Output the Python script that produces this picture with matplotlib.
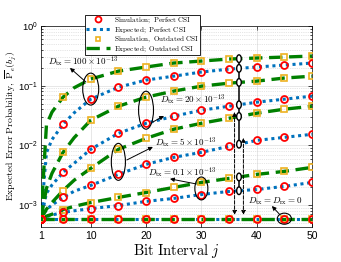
import numpy as np
import matplotlib
matplotlib.use("Agg")
import matplotlib.pyplot as plt
from matplotlib.patches import Ellipse

# bit interval where the expected curves and the simulation markers sit
j_line = [1, 2, 3, 5, 7, 10, 15, 20, 25, 30, 35, 40, 45, 50]
j_mark = [1, 5, 10, 15, 20, 25, 30, 35, 40, 45, 50]

# perfect CSI, D_tx = 100, 20, 5, 0.1 (x 1e-13)
perfect_100 = [0.00059, 0.0075, 0.0125, 0.0225, 0.035, 0.0593, 0.094, 0.124, 0.144, 0.169, 0.189, 0.205, 0.221, 0.239]
perfect_20 = [0.00059, 0.00157, 0.00217, 0.00352, 0.0050, 0.00857, 0.0159, 0.0234, 0.0307, 0.0387, 0.0452, 0.0528, 0.0593, 0.0667]
perfect_5 = [0.00059, 0.00084, 0.0010, 0.00134, 0.0017, 0.00213, 0.00326, 0.0048, 0.00628, 0.00763, 0.00962, 0.0121, 0.0136, 0.0153]
perfect_01 = [0.00059, 0.00064, 0.00068, 0.00075, 0.0008, 0.00087, 0.00098, 0.00115, 0.00129, 0.0015, 0.00169, 0.00182, 0.00205, 0.00239]

# outdated CSI
outdated_100 = [0.00059, 0.022, 0.036, 0.0641, 0.092, 0.129, 0.175, 0.205, 0.239, 0.258, 0.279, 0.29, 0.301, 0.313]
outdated_20 = [0.00059, 0.0019, 0.0034, 0.00763, 0.0134, 0.0263, 0.0452, 0.0641, 0.081, 0.098, 0.11, 0.119, 0.134, 0.144]
outdated_5 = [0.00059, 0.00085, 0.0011, 0.00175, 0.0026, 0.00411, 0.00857, 0.0131, 0.0186, 0.0234, 0.0284, 0.0345, 0.0403, 0.0452]
outdated_01 = [0.00059, 0.00065, 0.0007, 0.00084, 0.00095, 0.0011, 0.00134, 0.00162, 0.00197, 0.00239, 0.00279, 0.00326, 0.00366, 0.00427]

# D_tx = D_rx = 0
no_diffusion = [0.00059] * 14

blue = "#0072BD"
green = "#008000"
red = "#FF0000"
orange = "#EDB120"

plt.rcParams["font.family"] = ["Liberation Sans", "DejaVu Sans"]
plt.rcParams["mathtext.fontset"] = "cm"

fig = plt.figure(figsize=(3.41, 2.62), dpi=100)
ax = fig.add_axes([0.120, 0.134, 0.795, 0.767])

ax.set_yscale("log")
ax.set_xlim(1, 50)
ax.set_ylim(4.3e-4, 1)

pairs = [(perfect_100, outdated_100), (perfect_20, outdated_20), (perfect_5, outdated_5),
         (perfect_01, outdated_01), (no_diffusion, no_diffusion)]
mask = np.isin(j_line, j_mark)
jm = np.array(j_line)[mask]

handles = None
for p, o in pairs:
    p = np.array(p)
    o = np.array(o)
    l1, = ax.plot(j_line, p, color=blue, ls=(0, (1, 1.2)), lw=2.2, zorder=2)
    l2, = ax.plot(j_line, o, color=green, ls=(0, (4, 2)), lw=2.4, zorder=3)
    m1, = ax.plot(jm, p[mask], "o", mfc="none", mec=red, ms=5, mew=1.3, zorder=5)
    m2, = ax.plot(jm, o[mask], "s", mfc="none", mec=orange, ms=4.2, mew=1.2, zorder=4)
    if handles is None:
        handles = [m1, l1, m2, l2]

labels = [r"$\mathrm{Simulation;\ Perfect\ CSI}$", r"$\mathrm{Expected;\ Perfect\ CSI}$",
          r"$\mathrm{Simulation,\ Outdated\ CSI}$", r"$\mathrm{Expected;\ Outdated\ CSI}$"]
leg = ax.legend(handles, labels, loc="upper left", bbox_to_anchor=(0.162, 1.055),
                fontsize=5.2, handlelength=3.4, borderpad=0.1, labelspacing=0.0,
                handletextpad=0.5, fancybox=False, framealpha=1, borderaxespad=0,
                markerscale=0.85)
leg.get_frame().set_edgecolor("k")
leg.get_frame().set_linewidth(0.6)
leg.set_zorder(10)

ax.set_xticks([1, 10, 20, 30, 40, 50])
ax.set_yticks([1e-3, 1e-2, 1e-1, 1])
ax.tick_params(which="both", direction="in", top=True, right=True, width=0.5)
ax.tick_params(axis="x", labelsize=7.5, pad=3)
ax.tick_params(axis="y", labelsize=6.8, pad=2)
ax.tick_params(which="major", length=3)
ax.tick_params(which="minor", length=1.5)
ax.grid(True, which="major", color="#dddddd", lw=0.5)
ax.grid(True, which="minor", axis="y", color="#cccccc", lw=0.5, ls=":")
ax.set_axisbelow(True)
for s in ax.spines.values():
    s.set_linewidth(0.5)

ax.set_xlabel(r"$\mathrm{Bit\ Interval\ }j$", fontsize=10.5, labelpad=1)
ax.set_ylabel(r"$\mathrm{Expected\ Error\ Probability,\ }\overline{\mathrm{P}}_e(b_j)$",
              fontsize=7)
ax.yaxis.set_label_coords(-0.084, 0.5)


def to_axes(x, y):
    return (ax.transScale + ax.transLimits).transform((x, y))


def ell(x, y, w, h, lw=0.8):
    cx, cy = to_axes(x, y)
    ax.add_patch(Ellipse((cx, cy), w, h, transform=ax.transAxes, fill=False,
                         ec="k", lw=lw, zorder=7))


# ellipses around the pairs of curves
i10, i15, i20, i30 = j_line.index(10), j_line.index(15), j_line.index(20), j_line.index(30)
ell(10, np.sqrt(perfect_100[i10] * outdated_100[i10]), 0.059, 0.159)
ell(20, np.sqrt(perfect_20[i20] * outdated_20[i20]), 0.055, 0.189)
ell(15, np.sqrt(perfect_5[i15] * outdated_5[i15]), 0.052, 0.184)
ell(30, np.sqrt(perfect_01[i30] * outdated_01[i30]), 0.048, 0.114)
ell(45, no_diffusion[0], 0.052, 0.055)

arrow = dict(arrowstyle="-|>", color="k", lw=0.7, mutation_scale=6, shrinkA=0, shrinkB=0)
notes = [
    (r"$D_{\rm tx}=100\times10^{-13}$", (0.157, 0.821), "center", (0.166, 0.721), (0.107, 0.791)),
    (r"$D_{\rm tx}=20\times10^{-13}$", (0.439, 0.632), "left", (0.413, 0.522), (0.454, 0.552)),
    (r"$D_{\rm tx}=5\times10^{-13}$", (0.421, 0.418), "left", (0.317, 0.333), (0.413, 0.398)),
    (r"$D_{\rm tx}=0.1\times10^{-13}$", (0.395, 0.269), "left", (0.572, 0.214), (0.476, 0.239)),
    (r"$D_{\rm tx}=D_{\rm rx}=0$", (0.764, 0.129), "left", (0.882, 0.060), (0.852, 0.104)),
]
for txt, pos, ha, tail, head in notes:
    ax.text(pos[0], pos[1], txt, transform=ax.transAxes, ha=ha, va="center",
            fontsize=6.5, zorder=8)
    ax.annotate("", xy=head, xytext=tail, xycoords="axes fraction",
                textcoords="axes fraction", arrowprops=arrow, zorder=8)

# gaps between perfect and outdated CSI at one bit interval
jv = 36.8
curves = [outdated_100, perfect_100, outdated_20, perfect_20, outdated_5, perfect_5,
          outdated_01, perfect_01]
vals = [10 ** np.interp(jv, j_line, np.log10(c)) for c in curves]
ax.plot([jv, jv], [vals[0], vals[5]], color="k", lw=1.1, zorder=6)
ax.plot([jv, jv], [vals[6], vals[7]], color="k", lw=1.1, zorder=6)
for v in vals:
    cx, cy = to_axes(jv, v)
    ax.add_patch(Ellipse((cx, cy), 0.017, 0.038, transform=ax.transAxes, fc="white",
                         ec="k", lw=1.0, zorder=7))

darrow = dict(arrowstyle="<|-|>", color="k", lw=0.7, ls="--", mutation_scale=6,
              shrinkA=0, shrinkB=0)
ax.annotate("", xy=(36.0, 0.06), xytext=(36.0, 0.572), xycoords=("data", "axes fraction"),
            textcoords=("data", "axes fraction"), arrowprops=darrow, zorder=8)
ax.annotate("", xy=(37.6, 0.06), xytext=(37.6, 0.443), xycoords=("data", "axes fraction"),
            textcoords=("data", "axes fraction"), arrowprops=darrow, zorder=8)

fig.savefig("out.png", dpi=100)
